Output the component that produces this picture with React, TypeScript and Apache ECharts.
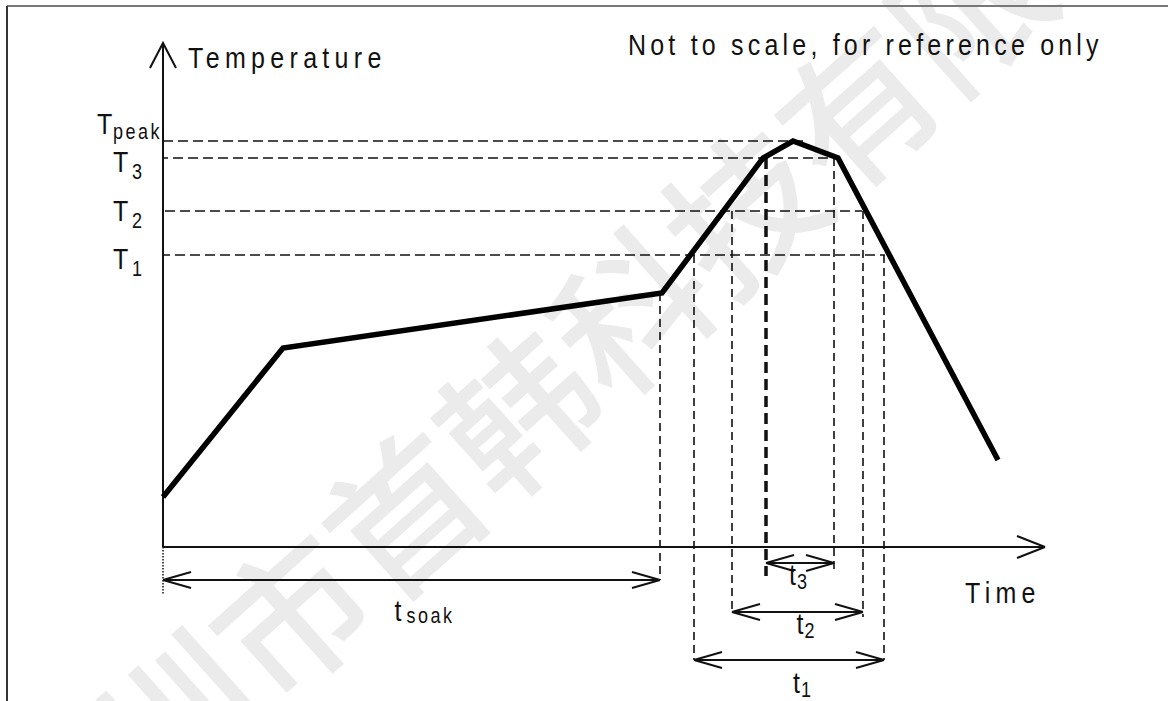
import React, { useEffect, useRef } from "react";
import * as echarts from "echarts";

// Reflow profile (schematic, arbitrary units: time from start, temperature above baseline)
const profileTime = [0, 120, 499, 600, 630, 675, 835];
const profileTemp = [50, 199, 254, 389, 406, 389, 87];

// Temperature levels
const levelNames = ["peak", "3", "2", "1"];
const levelTemps = [406, 389, 336, 292];
const levelLineFrom = [-15, -20, -13, -18];
const levelLineTo = [645, 675, 699, 722];

// Time intervals
const intervalNames = ["soak", "1", "2", "3"];
const intervalStart = [0, 531, 569, 603];
const intervalEnd = [497, 721, 700, 671];
const intervalStartTemp = [0, 292, 336, 389];
const intervalEndTemp = [254, 292, 336, 389];

const axisTimeMax = 882;
const axisTempMax = 504;

const FONT = "'Liberation Sans', Arial, Helvetica, sans-serif";

export default function App() {
  const ref = useRef<HTMLDivElement>(null);

  useEffect(() => {
    const el = ref.current!;
    const chart = echarts.init(el, null, { renderer: "svg" });

    const seg = (pts: number[][], width: number, type: any = "solid", color = "#000", z = 3) => ({
      type: "line",
      data: pts,
      symbol: "none",
      clip: false,
      silent: true,
      z,
      lineStyle: { color, width, type, cap: "butt", join: "miter" },
    });

    // rows (temperature units below the time axis) where the interval arrows sit
    const arrowRow = [-33, -113, -65, -16];
    const extStart = [0, 0, 0, 13];
    const extEnd = [0, 0, 5, 10];

    const series: any[] = [];
    // axes
    series.push(seg([[0, 0], [0, axisTempMax]], 2, "solid", "#111"));
    series.push(seg([[0, 0], [axisTimeMax, 0]], 2, "solid", "#111"));
    series.push(seg([[axisTimeMax, 0], [axisTimeMax - 28, 11]], 2, "solid", "#111"));
    series.push(seg([[axisTimeMax, 0], [axisTimeMax - 28, -11]], 2, "solid", "#111"));
    series.push(seg([[0, 0], [0, arrowRow[0] - 15]], 1.5, "dotted", "#111"));

    // level lines
    levelTemps.forEach((T, i) => {
      series.push(seg([[levelLineFrom[i], T], [levelLineTo[i], T]], 1.6, [10, 5], "#111", 2));
    });

    // interval verticals + arrows
    intervalNames.forEach((n, i) => {
      const s = intervalStart[i];
      const e = intervalEnd[i];
      const r = arrowRow[i];
      if (i > 0) {
        series.push(seg([[s, intervalStartTemp[i]], [s, r - extStart[i]]], i === 3 ? 3.5 : 1.6, i === 3 ? [11, 6] : [8, 5], "#111", 2));
      }
      series.push(seg([[e, intervalEndTemp[i]], [e, r - extEnd[i]]], 1.6, [8, 5], "#111", 2));
      series.push(seg([[s, r], [e, r]], 2, "solid", "#111"));
      series.push(seg([[s, r], [s + 28, r + 8]], 2, "solid", "#111"));
      series.push(seg([[s, r], [s + 28, r - 8]], 2, "solid", "#111"));
      series.push(seg([[e, r], [e - 28, r + 8]], 2, "solid", "#111"));
      series.push(seg([[e, r], [e - 28, r - 8]], 2, "solid", "#111"));
    });

    // profile
    series.push(seg(profileTime.map((t, i) => [t, profileTemp[i]]), 5.5, "solid", "#000", 5));

    chart.setOption({
      animation: false,
      backgroundColor: "#fff",
      grid: { left: 163, top: 43, right: 123, bottom: 154 },
      xAxis: { type: "value", min: 0, max: axisTimeMax, show: false },
      yAxis: { type: "value", min: 0, max: axisTempMax, show: false },
      series,
    });

    const px = (t: number, T: number) => chart.convertToPixel({ gridIndex: 0 }, [t, T]) as number[];

    const txt = (text: string, x: number, y: number, size: number, align = "left", z = 10) => ({
      type: "text",
      x,
      y,
      z,
      scaleY: 1.2,
      silent: true,
      style: {
        text,
        fill: "#111",
        fontSize: size,
        fontFamily: FONT,
        textAlign: align,
        textVerticalAlign: "middle",
        verticalAlign: "middle",
      },
    });

    const g: any[] = [];
    // page frame
    g.push({ type: "line", z: 1, shape: { x1: 7, y1: 6, x2: 1168, y2: 6 }, style: { stroke: "#777", lineWidth: 2 } });
    g.push({ type: "line", z: 1, shape: { x1: 7, y1: 6, x2: 7, y2: 701 }, style: { stroke: "#333", lineWidth: 2 } });
    // watermark
    g.push({
      type: "text",
      x: 626,
      y: 306,
      rotation: 0.73,
      z: 0,
      silent: true,
      style: {
        text: "深圳市首韩科技有限公司",
        fill: "#ebebeb",
        fontSize: 152,
        fontWeight: 500,
        fontFamily: "'Noto Sans CJK SC', sans-serif",
        textAlign: "center",
        textVerticalAlign: "middle",
        verticalAlign: "middle",
      },
    });

    const yTip = px(0, axisTempMax);
    const xTip = px(axisTimeMax, 0);
    // open arrow head on the temperature axis
    g.push({
      type: "polyline",
      z: 8,
      silent: true,
      shape: { points: [[yTip[0] - 13, yTip[1] + 25], [yTip[0], yTip[1]], [yTip[0] + 13, yTip[1] + 25]] },
      style: { stroke: "#111", lineWidth: 2, fill: null },
    });
    g.push(txt("Temperature", yTip[0] + 25, yTip[1] + 15, 25));
    g.push(txt("Time", xTip[0] - 80, xTip[1] + 46, 25));
    g.push(txt("Not to scale, for reference only", 628, 45, 25));

    // temperature level labels
    const levelTDy = [-17, 4, 0, 4];
    const levelTDx = [-66, -50, -50, -50];
    const levelSubDx = [16, 19, 19, 19];
    levelNames.forEach((n, i) => {
      const p = px(0, levelTemps[i]);
      const x = p[0] + levelTDx[i];
      const y = p[1] + levelTDy[i];
      g.push(txt("T", x, y, 25));
      g.push(txt(n, x + levelSubDx[i], y + (i === 0 ? 7 : 9), 18));
    });

    // interval labels
    const labDx = [-17, 4, -1, -11];
    const labDy = [31, 23, 12, 12];
    intervalNames.forEach((n, i) => {
      const a = px(intervalStart[i], arrowRow[i]);
      const b = px(intervalEnd[i], arrowRow[i]);
      const mid = (a[0] + b[0]) / 2;
      const x = mid + labDx[i];
      const y = a[1] + labDy[i];
      g.push(txt("t", x, y, 25));
      g.push(txt(n, x + (i === 0 ? 12 : 8), y + (i === 0 ? 4 : 6), 18));
    });

    chart.setOption({ graphic: g });

    const spaced: Record<string, string> = {
      "Temperature": "5.3",
      "Time": "5.3",
      "Not to scale, for reference only": "4.2",
      "peak": "2.5",
      "soak": "2.5",
    };
    el.querySelectorAll("text").forEach((t) => {
      const k = (t.textContent || "").trim();
      if (spaced[k]) t.setAttribute("letter-spacing", spaced[k]);
    });

    return () => chart.dispose();
  }, []);

  return (
    <div
      ref={ref}
      style={{ position: "fixed", left: 0, top: 0, width: 1168, height: 701, background: "#fff" }}
    />
  );
}
